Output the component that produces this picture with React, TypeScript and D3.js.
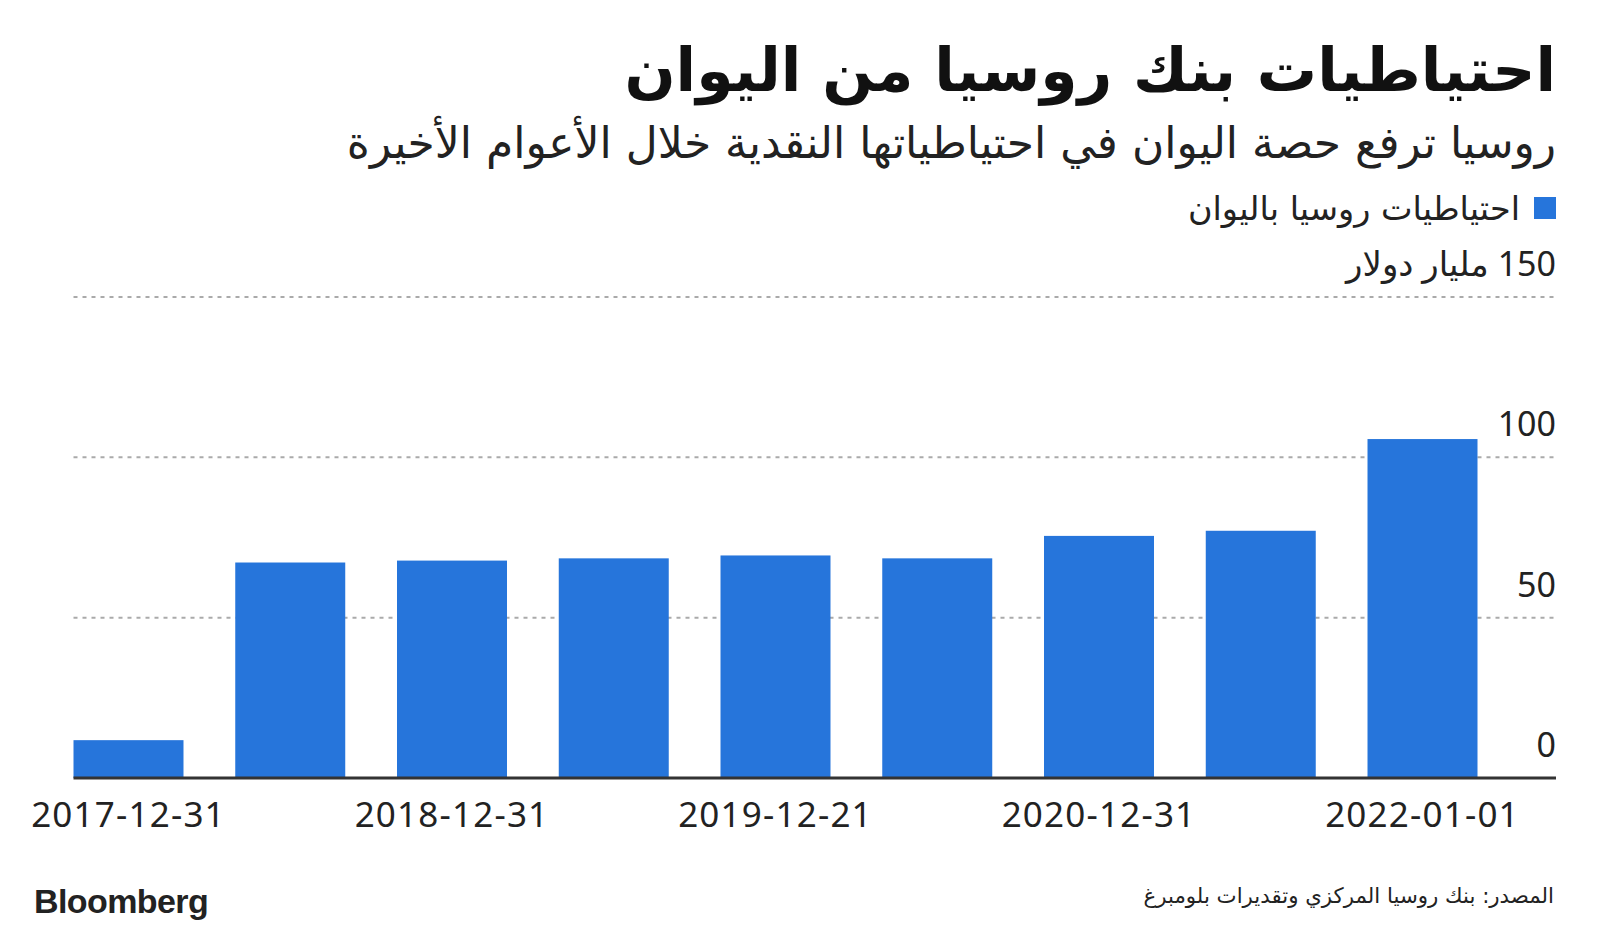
import React from 'react';
import * as d3 from 'd3';

// dates on the x axis (only every other one is labelled in the original)
const periods: string[] = [
  '2017-12-31',
  '2018-06-30',
  '2018-12-31',
  '2019-06-30',
  '2019-12-21',
  '2020-06-30',
  '2020-12-31',
  '2021-06-30',
  '2022-01-01',
];

// yuan reserves, billion USD
const yuanReserves: number[] = [11.8, 67.2, 67.8, 68.5, 69.4, 68.5, 75.5, 77.1, 105.7];

const yTicks: number[] = [0, 50, 100, 150];
const labelledPeriods: string[] = ['2017-12-31', '2018-12-31', '2019-12-21', '2020-12-31', '2022-01-01'];

const title = 'احتياطيات بنك روسيا من اليوان';
const subtitle = 'روسيا ترفع حصة اليوان في احتياطياتها النقدية خلال الأعوام الأخيرة';
const legendLabel = 'احتياطيات روسيا باليوان';
const unitLabel = 'مليار دولار';
const sourceText = 'المصدر: بنك روسيا المركزي وتقديرات بلومبرغ';

const W = 1600;
const H = 934;
const BLUE = '#2675DB';
const ARABIC = "'DejaVu Sans', sans-serif";
const NUM = "'Noto Sans', 'DejaVu Sans', sans-serif";

const App: React.FC = () => {
  const x = d3
    .scaleBand<string>()
    .domain(periods)
    .range([73.5, 1477.5])
    .paddingInner(0.32)
    .paddingOuter(0);

  const y = d3.scaleLinear().domain([0, 150]).range([778, 297]);

  const right = 1556;

  return (
    <svg
      width={W}
      height={H}
      viewBox={`0 0 ${W} ${H}`}
      style={{ position: 'absolute', left: 0, top: 0, background: '#fff' }}
    >
      {/* header */}
      <text x={right} y={91} textAnchor="end" fontFamily={ARABIC} fontWeight="bold" fontSize={60} fill="#111">
        {title}
      </text>
      <text x={right} y={158} textAnchor="end" fontFamily={ARABIC} fontSize={44} fill="#222">
        {subtitle}
      </text>

      {/* legend */}
      <rect x={1534} y={197} width={22} height={22} fill={BLUE} />
      <text x={1520} y={220} textAnchor="end" fontFamily={ARABIC} fontSize={33.5} fill="#222">
        {legendLabel}
      </text>

      {/* gridlines */}
      {yTicks
        .filter(t => t > 0)
        .map(t => (
          <line
            key={t}
            x1={73.5}
            x2={right}
            y1={y(t)}
            y2={y(t)}
            stroke="#aaa"
            strokeWidth={2}
            strokeDasharray="4,5"
          />
        ))}

      {/* y labels */}
      {yTicks.map(t => (
        <text
          key={t}
          x={right}
          y={y(t) - 21}
          textAnchor={t === 150 ? 'start' : 'end'}
          direction={t === 150 ? 'rtl' : undefined}
          fontFamily={NUM}
          fontSize={34}
          fill="#222"
        >
          {t === 150 ? `${t} ${unitLabel}` : t}
        </text>
      ))}

      {/* bars */}
      {periods.map((p, i) => (
        <rect
          key={p}
          x={x(p)}
          y={y(yuanReserves[i])}
          width={x.bandwidth()}
          height={y(0) - y(yuanReserves[i])}
          fill={BLUE}
        />
      ))}

      {/* baseline */}
      <line x1={73.5} x2={right} y1={y(0)} y2={y(0)} stroke="#333" strokeWidth={3} />

      {/* x labels */}
      {labelledPeriods.map(p => (
        <text
          key={p}
          x={(x(p) ?? 0) + x.bandwidth() / 2}
          y={827}
          textAnchor="middle"
          fontFamily={NUM}
          fontSize={35}
          letterSpacing={1.2}
          fill="#222"
        >
          {p}
        </text>
      ))}

      {/* footer */}
      <text x={34} y={913} fontFamily="'Liberation Sans', Arial, sans-serif" fontWeight="bold" fontSize={34} letterSpacing={-0.6} fill="#222">
        Bloomberg
      </text>
      <text x={1554} y={903} textAnchor="end" fontFamily={ARABIC} fontSize={21.3} fill="#222">
        {sourceText}
      </text>
    </svg>
  );
};

export default App;
